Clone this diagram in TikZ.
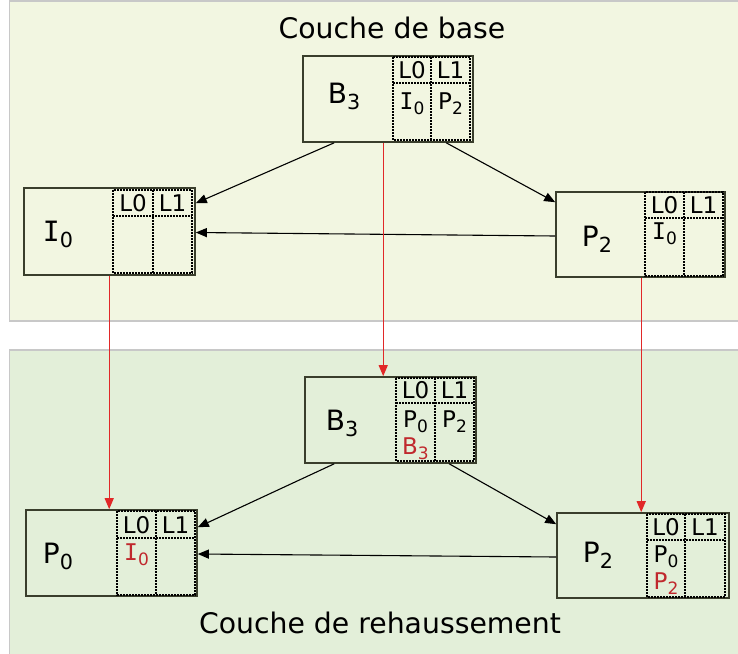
\documentclass[tikz,border=0pt]{standalone}
\usepackage{fontspec}
\setmainfont{DejaVu Sans}
\newfontfamily\monoI{DejaVu Sans Mono}
\usetikzlibrary{arrows.meta,calc}
\definecolor{toppan}{RGB}{242,246,225}
\definecolor{botpan}{RGB}{227,239,217}
\definecolor{panbrd}{RGB}{200,200,200}
\definecolor{boxbrd}{RGB}{58,62,44}
\definecolor{redln}{RGB}{225,40,40}
\definecolor{redtx}{RGB}{192,40,45}
\newcommand\sbs[1]{\raisebox{-0.22em}{\scalebox{0.74}{#1}}}
\newcommand\Ie{{\monoI I}}
\newcommand\dtab[7]{%
  \draw[tabl] (#2,#3) rectangle (#5,#7);
  \draw[tabl] (#4,#3) -- (#4,#7);
  \draw[tabl] (#2,#6) -- (#5,#6);
  \node[cell,anchor=base] (#1-l0) at ({(#2+#4)/2},{#6-5}) {L0};
  \node[cell,anchor=base] (#1-l1) at ({(#4+#5)/2},{#6-5}) {L1};
}
\tikzset{
  box/.style={draw=boxbrd, line width=1.6pt, inner sep=0pt},
  tabl/.style={draw=black, dash pattern=on 2pt off 1pt, line width=1.3pt},
  lbl/.style={font=\fontsize{28}{30}\selectfont, inner sep=0pt, anchor=base},
  cell/.style={font=\fontsize{23}{25}\selectfont, inner sep=0pt},
  title/.style={font=\fontsize{28.3}{30}\selectfont, inner sep=0pt, anchor=base},
  arr/.style={-{Triangle[length=11pt,width=9pt]}, line width=1.1pt, draw=black},
  rarr/.style={-{Triangle[length=11pt,width=9pt]}, line width=1.2pt, draw=redln},
}
\begin{document}
\begin{tikzpicture}[x=1pt,y=-1pt]
\useasboundingbox (0,0) rectangle (738,653);
\clip (0,0) rectangle (738,653);
% panels
\draw[panbrd, fill=toppan, line width=1.5pt] (9.5,1) rectangle (745,321);
\draw[panbrd, fill=botpan, line width=1.5pt] (9.5,350) rectangle (745,660);
\node[title] (ttl1) at (392,38) {Couche de base};
\node[title] (ttl2) at (380,633) {Couche de rehaussement};
% boxes
\node[box, fill=toppan, minimum width=170pt, minimum height=86pt] (tb3) at (388,99) {};
\node[box, fill=toppan, minimum width=171pt, minimum height=87pt] (ti0) at (109.5,231.5) {};
\node[box, fill=toppan, minimum width=169pt, minimum height=85pt] (tp2) at (640.5,234.5) {};
\node[box, fill=botpan, minimum width=171pt, minimum height=86pt] (bb3) at (390.5,420) {};
\node[box, fill=botpan, minimum width=171pt, minimum height=86pt] (bp0) at (111.5,553) {};
\node[box, fill=botpan, minimum width=172pt, minimum height=85pt] (bp2) at (643,555.5) {};
% labels
\node[lbl] (tb3l) at (344,103.7) {B\sbs{3}};
\node[lbl] (ti0l) at (58,241) {\Ie\sbs{0}};
\node[lbl] (tp2l) at (597,246) {P\sbs{2}};
\node[lbl] (bb3l) at (342,430) {B\sbs{3}};
\node[lbl] (bp0l) at (58,563) {P\sbs{0}};
\node[lbl] (bp2l) at (598,562) {P\sbs{2}};
% tables
\dtab{tb3t}{393}{57}{431}{470}{83}{140}
\dtab{ti0t}{113}{190}{153}{192}{216}{273}
\dtab{tp2t}{645}{192}{684}{723}{218}{276}
\dtab{bb3t}{396}{378}{435}{474}{403}{461}
\dtab{bp0t}{117}{511}{156}{195}{538}{595}
\dtab{bp2t}{647}{514}{685}{725}{540}{597}
% cell contents
\node[cell,anchor=base] (c1) at (412,109) {\Ie\sbs{0}};
\node[cell,anchor=base] (c2) at (450.5,109) {P\sbs{2}};
\node[cell,anchor=base] (c3) at (664.5,239) {\Ie\sbs{0}};
\node[cell,anchor=base] (c4) at (415.5,427.5) {P\sbs{0}};
\node[cell,anchor=base,text=redtx] (c5) at (415.5,454) {B\sbs{3}};
\node[cell,anchor=base] (c6) at (454.5,427.5) {P\sbs{2}};
\node[cell,anchor=base,text=redtx] (c7) at (136.5,560) {\Ie\sbs{0}};
\node[cell,anchor=base] (c8) at (666,562) {P\sbs{0}};
\node[cell,anchor=base,text=redtx] (c9) at (666,589) {P\sbs{2}};
% black arrows top
\draw[arr] ($(tb3.south west)+(32,0)$) -- ($(ti0.north east)+(0,16)$);
\draw[arr] ($(tb3.south west)+(144,0)$) -- ($(tp2.north west)+(0,11)$);
\draw[arr] ($(tp2.west)+(0,1.5)$) -- ($(ti0.east)+(0,1)$);
% black arrows bottom
\draw[arr] ($(bb3.south west)+(30,0)$) -- ($(bp0.north east)+(0,18)$);
\draw[arr] ($(bb3.south west)+(145,0)$) -- ($(bp2.north west)+(0,12)$);
\draw[arr] ($(bp2.west)+(0,1.5)$) -- ($(bp0.east)+(0,1)$);
% red arrows
\draw[rarr] ($(ti0.south west)+(86,0)$) coordinate (r1) -- (r1 |- bp0.north);
\draw[rarr] ($(tb3.south west)+(81,0)$) coordinate (r2) -- (r2 |- bb3.north);
\draw[rarr] ($(tp2.south west)+(86,0)$) coordinate (r3) -- (r3 |- bp2.north);
\end{tikzpicture}
\end{document}
